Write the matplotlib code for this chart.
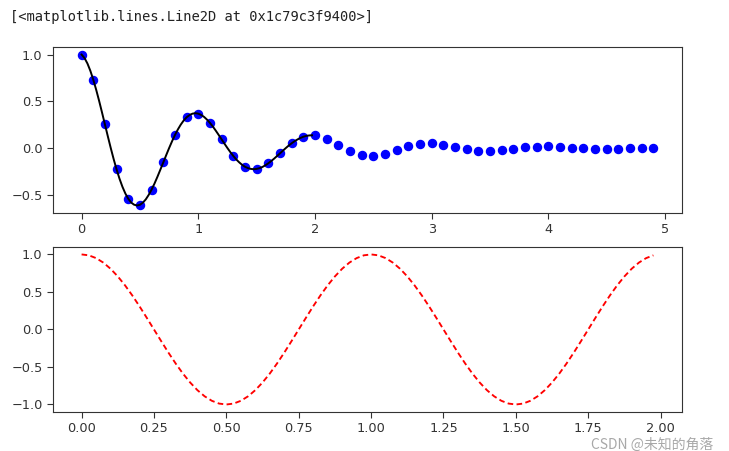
import matplotlib
matplotlib.use("Agg")
from matplotlib import pyplot as plt

# sampled points (blue dots), t = 0.0 .. 4.9
t_dots = [0.0, 0.1, 0.2, 0.3, 0.4, 0.5, 0.6, 0.7, 0.8, 0.9,
          1.0, 1.1, 1.2, 1.3, 1.4, 1.5, 1.6, 1.7, 1.8, 1.9,
          2.0, 2.1, 2.2, 2.3, 2.4, 2.5, 2.6, 2.7, 2.8, 2.9,
          3.0, 3.1, 3.2, 3.3, 3.4, 3.5, 3.6, 3.7, 3.8, 3.9,
          4.0, 4.1, 4.2, 4.3, 4.4, 4.5, 4.6, 4.7, 4.8, 4.9]
y_dots = [1.0, 0.732, 0.253, -0.229, -0.542, -0.607, -0.444, -0.154, 0.139, 0.329,
          0.368, 0.269, 0.093, -0.084, -0.200, -0.223, -0.163, -0.057, 0.051, 0.121,
          0.135, 0.099, 0.034, -0.031, -0.073, -0.082, -0.060, -0.021, 0.019, 0.045,
          0.050, 0.036, 0.013, -0.011, -0.027, -0.030, -0.022, -0.008, 0.007, 0.016,
          0.018, 0.013, 0.005, -0.004, -0.010, -0.011, -0.008, -0.003, 0.003, 0.006]

# smooth curve (black), t = 0.0 .. 1.975 step 0.025
t_line = [0.0, 0.025, 0.05, 0.075, 0.1, 0.125, 0.15, 0.175, 0.2, 0.225,
          0.25, 0.275, 0.3, 0.325, 0.35, 0.375, 0.4, 0.425, 0.45, 0.475,
          0.5, 0.525, 0.55, 0.575, 0.6, 0.625, 0.65, 0.675, 0.7, 0.725,
          0.75, 0.775, 0.8, 0.825, 0.85, 0.875, 0.9, 0.925, 0.95, 0.975,
          1.0, 1.025, 1.05, 1.075, 1.1, 1.125, 1.15, 1.175, 1.2, 1.225,
          1.25, 1.275, 1.3, 1.325, 1.35, 1.375, 1.4, 1.425, 1.45, 1.475,
          1.5, 1.525, 1.55, 1.575, 1.6, 1.625, 1.65, 1.675, 1.7, 1.725,
          1.75, 1.775, 1.8, 1.825, 1.85, 1.875, 1.9, 1.925, 1.95, 1.975]
y_line = [1.0, 0.963, 0.905, 0.827, 0.732, 0.624, 0.506, 0.381, 0.253, 0.125,
          0.0, -0.119, -0.229, -0.328, -0.414, -0.486, -0.542, -0.583, -0.606, -0.614,
          -0.607, -0.584, -0.549, -0.501, -0.444, -0.379, -0.307, -0.231, -0.154, -0.076,
          0.0, 0.072, 0.139, 0.199, 0.251, 0.295, 0.329, 0.353, 0.368, 0.373,
          0.368, 0.354, 0.333, 0.304, 0.269, 0.230, 0.186, 0.140, 0.093, 0.046,
          0.0, -0.044, -0.084, -0.121, -0.152, -0.179, -0.200, -0.214, -0.223, -0.226,
          -0.223, -0.215, -0.202, -0.184, -0.163, -0.139, -0.113, -0.085, -0.057, -0.028,
          0.0, 0.027, 0.051, 0.073, 0.092, 0.108, 0.121, 0.130, 0.135, 0.137]

# cosine (red dashed), same t grid
t_cos = t_line
y_cos = [1.0, 0.988, 0.951, 0.891, 0.809, 0.707, 0.588, 0.454, 0.309, 0.156,
         0.0, -0.156, -0.309, -0.454, -0.588, -0.707, -0.809, -0.891, -0.951, -0.988,
         -1.0, -0.988, -0.951, -0.891, -0.809, -0.707, -0.588, -0.454, -0.309, -0.156,
         0.0, 0.156, 0.309, 0.454, 0.588, 0.707, 0.809, 0.891, 0.951, 0.988,
         1.0, 0.988, 0.951, 0.891, 0.809, 0.707, 0.588, 0.454, 0.309, 0.156,
         0.0, -0.156, -0.309, -0.454, -0.588, -0.707, -0.809, -0.891, -0.951, -0.988,
         -1.0, -0.988, -0.951, -0.891, -0.809, -0.707, -0.588, -0.454, -0.309, -0.156,
         0.0, 0.156, 0.309, 0.454, 0.588, 0.707, 0.809, 0.891, 0.951, 0.988]

fig = plt.figure(figsize=(7.29, 4.51), dpi=100)

ax1 = fig.add_axes([0.0727, 0.5277, 0.8628, 0.368])
ax1.plot(t_dots, y_dots, 'bo', markersize=5.8)
ax1.plot(t_line, y_line, 'k', linewidth=1.4)
ax1.set_yticks([-0.5, 0.0, 0.5, 1.0])

ax2 = fig.add_axes([0.0727, 0.0865, 0.8628, 0.366])
ax2.plot(t_cos, y_cos, 'r--', linewidth=1.35, dashes=(3.0, 1.8))

for ax in (ax1, ax2):
    ax.tick_params(labelsize=9.3, length=4, width=0.8, colors='#333333')
    for s in ax.spines.values():
        s.set_color('#333333')

fig.text(10 / 729, 1 - 17 / 451, "[<matplotlib.lines.Line2D at 0x1c79c3f9400>]",
         family='DejaVu Sans Mono', fontsize=9.9, va='center', ha='left', color='#222222')

# watermark, kept just below the tick labels
fig.text(713 / 729, 1 - 448.5 / 451, "CSDN @未知的角落",
         family=['Noto Sans CJK SC', 'DejaVu Sans'], fontsize=10,
         va='baseline', ha='right', color='#999999', alpha=0.85)

plt.savefig("out.png", dpi=100)
